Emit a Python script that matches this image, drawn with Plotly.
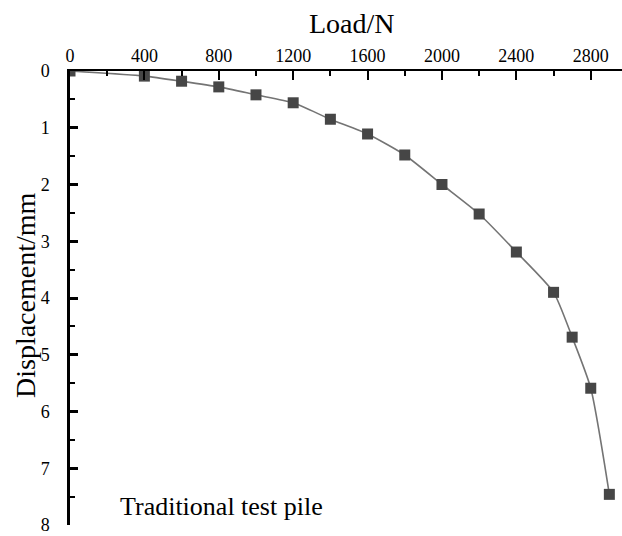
import plotly.graph_objects as go

load_n = [0, 400, 600, 800, 1000, 1200, 1400, 1600, 1800, 2000, 2200, 2400, 2600, 2700, 2800, 2900]
displacement_mm = [0, 0.09, 0.18, 0.28, 0.42, 0.56, 0.85, 1.11, 1.48, 2.0, 2.52, 3.19, 3.9, 4.69, 5.59, 7.46]
x_ticks = [0, 400, 800, 1200, 1600, 2000, 2400, 2800]
y_ticks = [0, 1, 2, 3, 4, 5, 6, 7, 8]

font_family = "Liberation Serif, Times New Roman, serif"

W, H = 622, 536
l, r, t, b = 70, 0, 71, 11
pw, ph = W - l - r, H - t - b


def px_x(px):
    return (px - l) / pw


def px_y(py):
    return (H - b - py) / ph


fig = go.Figure()
fig.add_trace(go.Scatter(
    x=load_n, y=displacement_mm, mode="lines+markers",
    line=dict(color="#747474", width=1.6, shape="spline", smoothing=0.6),
    marker=dict(symbol="square", size=11, color="#464646", line=dict(width=0)),
    showlegend=False, cliponaxis=True,
))

fig.update_layout(
    width=W, height=H,
    margin=dict(l=l, r=r, t=t, b=b),
    paper_bgcolor="white", plot_bgcolor="white",
    font=dict(family=font_family, color="black"),
    xaxis=dict(
        side="top", range=[0, 2968], tickvals=x_ticks, automargin=False,
        ticks="inside", ticklen=9, tickwidth=1.5, tickcolor="black",
        minor=dict(dtick=200, tick0=0, ticks="inside", ticklen=5, tickwidth=1.5, tickcolor="black"),
        showline=True, linecolor="black", linewidth=2, showgrid=False, zeroline=False,
        tickfont=dict(size=18, family=font_family), ticklabelstandoff=0,
    ),
    yaxis=dict(
        range=[8, 0], tickvals=y_ticks, automargin=False,
        ticks="inside", ticklen=8, tickwidth=3, tickcolor="black",
        minor=dict(dtick=0.5, tick0=0, ticks="inside", ticklen=5, tickwidth=2, tickcolor="black"),
        showline=True, linecolor="black", linewidth=2.5, showgrid=False, zeroline=False,
        tickfont=dict(size=18, family=font_family), ticklabelstandoff=14,
    ),
    annotations=[
        dict(text="Load/N", x=px_x(352), y=px_y(24), xref="paper", yref="paper",
             showarrow=False, xanchor="center", yanchor="middle",
             font=dict(size=28, family=font_family)),
        dict(text="Displacement/mm", x=px_x(25), y=px_y(295), xref="paper", yref="paper",
             showarrow=False, textangle=-90, xanchor="center", yanchor="middle",
             font=dict(size=28, family=font_family)),
        dict(text="Traditional test pile", x=px_x(118), y=px_y(506), xref="paper", yref="paper",
             showarrow=False, xanchor="left", yanchor="middle",
             font=dict(size=26, family=font_family)),
    ],
)

fig.write_html(
    "out.html",
    config={"displayModeBar": False},
    post_script="document.body.style.margin='0';document.body.style.overflow='hidden';",
)
